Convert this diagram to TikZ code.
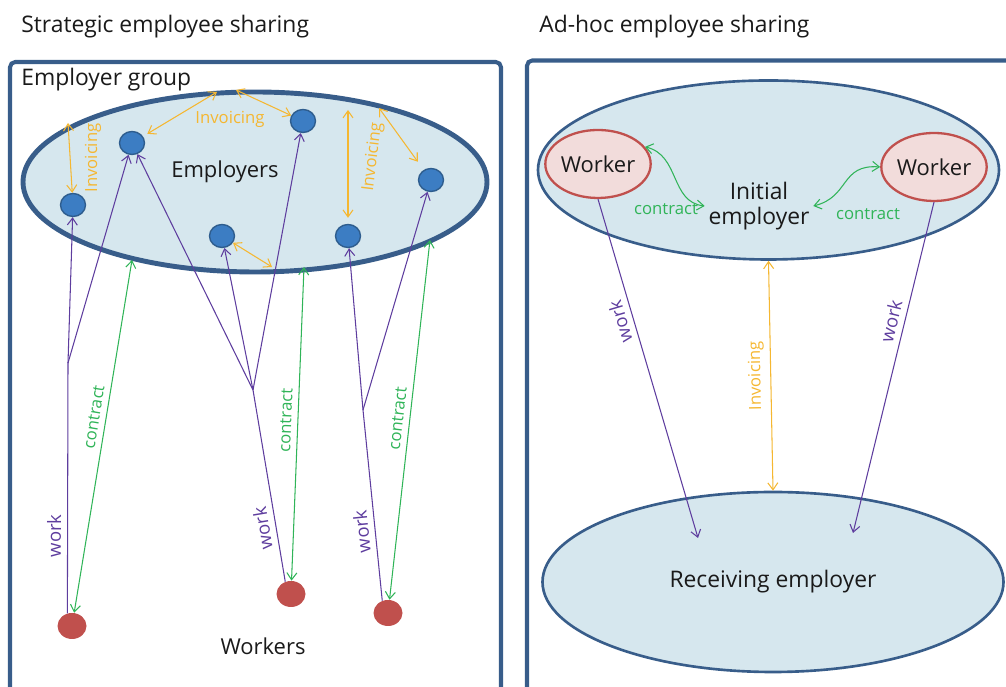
\documentclass[tikz,border=0pt]{standalone}
\usepackage{fontspec}
\setmainfont{Open Sans}
\usepackage{xcolor}
\usepackage{tikz}
\usetikzlibrary{arrows.meta}
\usetikzlibrary{shapes.geometric}
\usetikzlibrary{positioning}

\definecolor{frameblue}{HTML}{385D8A}
\definecolor{groupfill}{HTML}{D6E7EE}
\definecolor{dotblue}{HTML}{3C7DC3}
\definecolor{dotedge}{HTML}{2E5D8E}
\definecolor{dotred}{HTML}{C0504D}
\definecolor{workerfill}{HTML}{F2DCDB}
\definecolor{workpurple}{HTML}{5E3D9E}
\definecolor{contractgreen}{HTML}{30B458}
\definecolor{invorange}{HTML}{F5B731}
\definecolor{inktext}{HTML}{1A1A1A}

\begin{document}
\begin{tikzpicture}[x=0.2mm, y=0.2mm, text=inktext,
		font=\fontsize{12.5}{14}\selectfont,
		ttl/.style={anchor=base west, inner sep=0pt, font=\fontsize{13}{15}\selectfont},
		lbl/.style={font=\fontsize{9.5}{11}\selectfont},
		wlbl/.style={font=\fontsize{10.5}{12}\selectfont},
		inv/.style={invorange, line width=0.6pt, <->},
		work/.style={workpurple, line width=0.6pt},
		contract/.style={contractgreen, line width=0.6pt, <->},
		>={Straight Barb[length=1.4mm, width=2mm]}]
		\useasboundingbox (0,0) rectangle (1006,687);
		\clip (0,0) rectangle (1006,687);

		% frames and titles
		\draw[frameblue, line width=2.3pt, rounded corners=3pt] (10,-10) -- (10,625) -- (501,625) -- (501,-10);
		\draw[frameblue, line width=2.3pt, rounded corners=3pt] (527,-10) -- (527,626.5) -- (1020,626.5);
		\node[ttl] (title1) at (21,654) {Strategic employee sharing};
		\node[ttl] (title2) at (539,654) {Ad-hoc employee sharing};
		\node[ttl] (group) at (21,601) {Employer group};

		% strategic sharing
		\begin{scope}[every node/.style = {ellipse, inner sep=0pt}]
			\node[draw=frameblue, line width=2.8pt, fill=groupfill, minimum width=92.8mm, minimum height=36mm] (G) at (255,505) {};
			\node[draw=dotedge, line width=0.8pt, fill=dotblue, minimum width=5mm, minimum height=4.6mm] (e1) at (73,482) {};
			\node[draw=dotedge, line width=0.8pt, fill=dotblue, minimum width=5mm, minimum height=4.6mm] (e2) at (132,544) {};
			\node[draw=dotedge, line width=0.8pt, fill=dotblue, minimum width=5mm, minimum height=4.6mm] (e3) at (303,566) {};
			\node[draw=dotedge, line width=0.8pt, fill=dotblue, minimum width=5mm, minimum height=4.6mm] (e4) at (222,451) {};
			\node[draw=dotedge, line width=0.8pt, fill=dotblue, minimum width=5mm, minimum height=4.6mm] (e5) at (348,451) {};
			\node[draw=dotedge, line width=0.8pt, fill=dotblue, minimum width=5mm, minimum height=4.6mm] (e6) at (431,507) {};
			\node[fill=dotred, minimum width=5.8mm, minimum height=5.2mm] (w1) at (72,61) {};
			\node[fill=dotred, minimum width=5.8mm, minimum height=5.2mm] (w2) at (291,93) {};
			\node[fill=dotred, minimum width=5.8mm, minimum height=5.2mm] (w3) at (388,74) {};
		\end{scope}
		\node (employers) at (225,515) {Employers};
		\node (workers) at (263,41) {Workers};

		\coordinate (i1) at (68,564);
		\coordinate (i2) at (217,595);
		\coordinate (i3) at (236,597);
		\coordinate (i4) at (348,577);
		\coordinate (i5) at (379,579);
		\coordinate (i6) at (272,420);
		\coordinate (b1) at (68,324);
		\coordinate (b2) at (253,297);
		\coordinate (b3) at (363,277);
		\coordinate (k1) at (132,427);
		\coordinate (k2) at (304,420);
		\coordinate (k3) at (430,447);

		\draw[inv] (i1) -- (e1);
		\draw[inv, shorten <=1mm] (e2) -- (i2);
		\draw[inv] (i3) -- (e3);
		\draw[inv, shorten >=1.2mm] (i4) -- (e5);
		\draw[inv, shorten >=2mm] (i5) -- (e6);
		\draw[inv] (e4) -- (i6);
		\node[lbl, invorange, rotate=90] (inv1) at (93,529) {Invoicing};
		\node[lbl, invorange] (inv2) at (230,568) {Invoicing};
		\node[lbl, invorange, rotate=83] (inv3) at (373,530) {Invoicing};

		\draw[work] (w1.110) -- node[wlbl, pos=0.31, sloped, above] {work} (b1);
		\draw[work, ->] (b1) -- (e1);
		\draw[work, ->] (b1) -- (e2);
		\draw[work] (w2.115) -- node[wlbl, pos=0.29, sloped, allow upside down, above] {work} (b2);
		\draw[work, ->] (b2) -- (e2);
		\draw[work, ->] (b2) -- (e4);
		\draw[work, ->] (b2) -- (e3);
		\draw[work] (w3.115) -- node[wlbl, pos=0.37, sloped, allow upside down, above] {work} (b3);
		\draw[work, ->] (b3) -- (e5);
		\draw[work, ->] (b3) -- (e6);

		\draw[contract] (w1) -- node[lbl, pos=0.55, sloped, above] {contract} (k1);
		\draw[contract] (w2) -- node[lbl, pos=0.51, sloped, above] {contract} (k2);
		\draw[contract] (w3) -- node[lbl, pos=0.5, sloped, above] {contract} (k3);

		% ad-hoc sharing
		\begin{scope}[every node/.style = {ellipse, inner sep=0pt}]
			\node[draw=frameblue, line width=1.5pt, fill=groupfill, minimum width=92.2mm, minimum height=35.8mm] (IE) at (768.5,517) {};
			\node[draw=frameblue, line width=1.5pt, fill=groupfill, minimum width=92.2mm, minimum height=36mm, font=\fontsize{13}{15}\selectfont] (RE) at (773,105) {Receiving employer};
			\node[draw=dotred, line width=1.3pt, fill=workerfill, minimum width=16.8mm, minimum height=13.6mm] (v1) at (598,523) {Worker};
			\node[draw=dotred, line width=1.3pt, fill=workerfill, minimum width=17.2mm, minimum height=13.6mm] (v2) at (934,520) {Worker};
		\end{scope}
		\node[align=center, inner sep=2pt, font=\fontsize{13}{14}\selectfont] (ie) at (759,481) {Initial\\employer};

		\coordinate (r1) at (698,149);
		\coordinate (r2) at (853,154);

		\draw[contract] (v1.20) .. controls (680,532) and (670,485) .. (ie.west);
		\draw[contract] (ie.east) .. controls (850,490) and (840,523) .. (v2.west);
		\node[lbl, contractgreen] (con1) at (666,478) {contract};
		\node[lbl, contractgreen] (con2) at (868,473) {contract};

		\draw[work, <-] (r1) -- node[wlbl, pos=0.65, sloped, allow upside down, above] {work} (v1.south);
		\draw[work, ->] (v2.south) -- node[wlbl, pos=0.37, sloped, above] {work} (r2);
		\draw[inv] (RE.north) -- node[lbl, midway, sloped, allow upside down, above] {Invoicing} (IE.south);
	\end{tikzpicture}
\end{document}
